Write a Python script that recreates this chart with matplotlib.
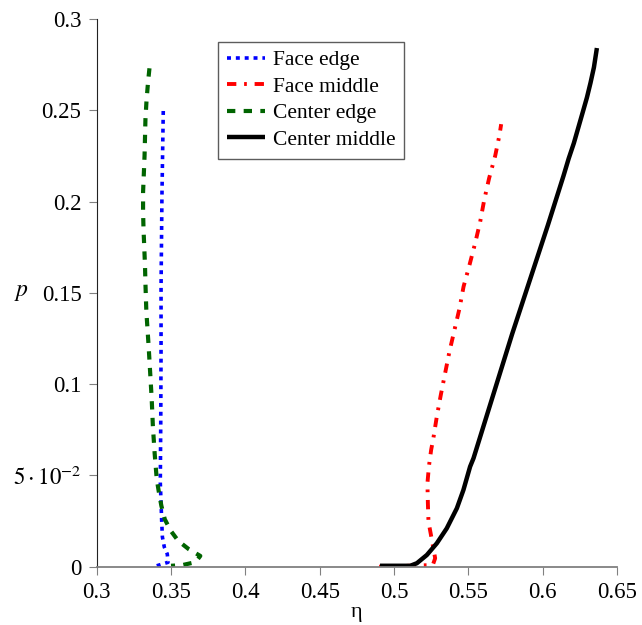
import matplotlib
matplotlib.use("Agg")
import matplotlib.pyplot as plt

plt.rcParams['font.family'] = ['Liberation Serif', 'DejaVu Serif']
plt.rcParams['mathtext.fontset'] = 'stix'
plt.rcParams['font.size'] = 15

# data (eta, p)
face_edge_eta = [0.3404, 0.3480, 0.3475, 0.3455, 0.3442, 0.3437, 0.3433, 0.3428,
                 0.3431, 0.3433, 0.3433, 0.3439, 0.3448]
face_edge_p = [0.0005, 0.0024, 0.0069, 0.0107, 0.0163, 0.0256, 0.0350, 0.0460,
               0.0800, 0.1200, 0.1530, 0.2030, 0.2500]

face_mid_eta = [0.4900, 0.5261, 0.5277, 0.5255, 0.5232, 0.5228, 0.5225, 0.5235,
                0.5250, 0.5265, 0.5288, 0.5315, 0.5344, 0.5373, 0.5407, 0.5441,
                0.5468, 0.5508, 0.5546, 0.5580, 0.5607, 0.5640, 0.5681, 0.5710, 0.5721]
face_mid_p = [0.0000, 0.0009, 0.0046, 0.0146, 0.0247, 0.0347, 0.0457, 0.0550,
              0.0640, 0.0704, 0.0822, 0.0941, 0.1060, 0.1178, 0.1297, 0.1416,
              0.1534, 0.1653, 0.1772, 0.1890, 0.2009, 0.2128, 0.2251, 0.2366, 0.2424]

center_edge_eta = [0.3355, 0.3345, 0.3335, 0.3328, 0.3325, 0.3322, 0.3317, 0.3312,
                   0.3312, 0.3315, 0.3320, 0.3325, 0.3328, 0.3334, 0.3350, 0.3370,
                   0.3378, 0.3390, 0.3397, 0.3404, 0.3419, 0.3435, 0.3458, 0.3498,
                   0.3549, 0.3621, 0.3697, 0.3665, 0.3572, 0.3500]
center_edge_p = [0.2730, 0.2650, 0.2550, 0.2450, 0.2350, 0.2250, 0.2150, 0.2050,
                 0.1950, 0.1850, 0.1750, 0.1650, 0.1550, 0.1400, 0.1200, 0.0920,
                 0.0770, 0.0620, 0.0550, 0.0480, 0.0405, 0.0334, 0.0260, 0.0197,
                 0.0141, 0.0095, 0.0059, 0.0025, 0.0008, 0.0005]

center_mid_eta = [0.4906, 0.5110, 0.5154, 0.5221, 0.5288, 0.5355, 0.5423, 0.5467,
                  0.5512, 0.5535, 0.5795, 0.6035, 0.6070, 0.6105, 0.6140, 0.6175,
                  0.6210, 0.6240, 0.6270, 0.6298, 0.6322, 0.6345, 0.6365]
center_mid_p = [0.0005, 0.0005, 0.0019, 0.0064, 0.0128, 0.0210, 0.0320, 0.0420,
                0.0548, 0.0594, 0.1275, 0.1870, 0.1960, 0.2050, 0.2140, 0.2235,
                0.2320, 0.2405, 0.2490, 0.2570, 0.2650, 0.2735, 0.2841]

x_ticks = [0.3, 0.35, 0.4, 0.45, 0.5, 0.55, 0.6, 0.65]
x_tick_labels = ['0.3', '0.35', '0.4', '0.45', '0.5', '0.55', '0.6', '0.65']
y_ticks = [0, 0.05, 0.1, 0.15, 0.2, 0.25, 0.3]
y_tick_labels = ['0', r'$5\cdot10^{-2}$', '0.1', '0.15', '0.2', '0.25', '0.3']

fig = plt.figure(figsize=(6.42, 6.25), dpi=100)
ax = fig.add_axes([0.1506, 0.0933, 0.8104, 0.8763])

ax.plot(face_edge_eta, face_edge_p, color='#0000ff', lw=2.6,
        dashes=(1.1, 1.35), label='Face edge')
ax.plot(face_mid_eta, face_mid_p, color='#ff0000', lw=2.8,
        dashes=(2.4, 2.0, 0.7, 2.0), label='Face middle')
ax.plot(center_edge_eta, center_edge_p, color='#006400', lw=3.0,
        dashes=(2.0, 2.0), label='Center edge')
ax.plot(center_mid_eta, center_mid_p, color='black', lw=3.2,
        label='Center middle', solid_capstyle='butt')

ax.set_xlim(0.3, 0.65)
ax.set_ylim(0, 0.3)
ax.set_xticks(x_ticks)
ax.set_xticklabels(x_tick_labels)
ax.set_yticks(y_ticks)
ax.set_yticklabels(y_tick_labels)

ax.spines['top'].set_visible(False)
ax.spines['right'].set_visible(False)
ax.spines['left'].set_color('#222222')
ax.spines['bottom'].set_color('#808080')
ax.spines['bottom'].set_linewidth(1.3)
ax.tick_params(direction='out', length=6, width=0.8, color='#808080',
               labelsize=16.5, pad=5)

ax.set_xlabel('η', fontsize=16, labelpad=0)
ax.set_ylabel('$p$', fontsize=17, rotation=0, va='center')
ax.yaxis.set_label_coords(-0.145, 0.5)

leg = ax.legend(loc='upper left', bbox_to_anchor=(0.2337, 0.9586),
                borderaxespad=0, fancybox=False, fontsize=15.5,
                handlelength=1.75, handletextpad=0.4, labelspacing=0.3,
                borderpad=0.4)
leg.get_frame().set_edgecolor('#333333')
leg.get_frame().set_linewidth(1.0)

fig.savefig('out.png', dpi=100)
